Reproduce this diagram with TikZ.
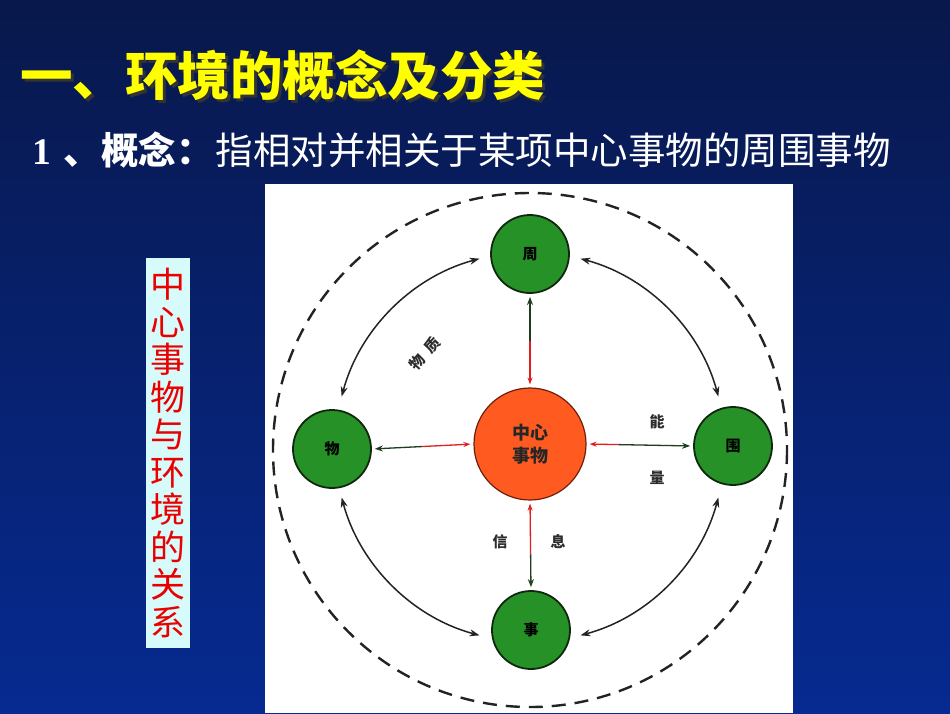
\documentclass[tikz,border=0pt]{standalone}
\usepackage{fontspec}
\newfontfamily\cjk{Noto Sans CJK SC}
\newfontfamily\tnr{Liberation Serif}
\usetikzlibrary{arrows.meta,calc}
\definecolor{bgtop}{RGB}{8,24,75}
\definecolor{bgbot}{RGB}{6,42,145}
\definecolor{ttl}{RGB}{255,255,0}
\definecolor{gfill}{RGB}{38,145,38}
\definecolor{gline}{RGB}{15,40,15}
\definecolor{ofill}{RGB}{255,90,32}
\definecolor{oline}{RGB}{110,30,10}
\definecolor{lblbox}{RGB}{215,250,250}
\definecolor{lblred}{RGB}{235,0,0}
\definecolor{redarr}{RGB}{225,30,30}
\definecolor{darr}{RGB}{30,60,30}
\definecolor{ringcol}{RGB}{35,35,35}
\definecolor{labcol}{RGB}{45,45,45}
\begin{document}
\begin{tikzpicture}[x=1pt,y=-1pt,
  outerc/.style={circle,draw=gline,line width=1.8pt,fill=gfill,minimum size=78pt,inner sep=0pt,text=black,font=\cjk\bfseries\fontsize{15}{15}\selectfont},
  corec/.style={circle,draw=oline,line width=1.2pt,fill=ofill,minimum size=112pt,inner sep=0pt,align=center,text=black!85,font=\cjk\bfseries\fontsize{18}{23}\selectfont},
  ringarrow/.style={draw=ringcol,line width=1.5pt,{Stealth[length=10pt,width=7pt]}-{Stealth[length=10pt,width=7pt]}},
  redhalf/.style={draw=redarr,line width=1.3pt,-{Stealth[length=7pt,width=5pt]},shorten >=3pt},
  greenhalf/.style={draw=darr,line width=1.3pt,-{Stealth[length=8pt,width=6pt]},shorten >=3pt},
  smalllab/.style={text=labcol,font=\cjk\bfseries\fontsize{15}{15}\selectfont,inner sep=0pt},
  dashring/.style={draw=ringcol,line width=2.4pt,dash pattern=on 14pt off 9pt},
  vlabel/.style={fill=lblbox,text=lblred,minimum width=44pt,minimum height=390pt,inner sep=0pt,align=center,font=\cjk\fontsize{35}{37.5}\selectfont},
  titletext/.style={anchor=west,inner sep=0pt,font=\cjk\bfseries\fontsize{52.5}{52.5}\selectfont},
  subtext/.style={anchor=west,inner sep=0pt,font=\cjk\fontsize{37.5}{37.5}\selectfont}
]
\useasboundingbox (0,0) rectangle (950,713);
\shade[top color=bgtop,bottom color=bgbot] (0,0) rectangle (950,713);

% title with shadow
\node[titletext,text=black!80] (titleshadow) at (23,78) {一、环境的概念及分类};
\node[titletext,text=ttl] (title) at (20,75) {一、环境的概念及分类};

% subtitle
\node[subtext,text=white] (sub) at (32,150) {{\tnr\bfseries 1}\hspace{13pt}{\bfseries 、概念：}\hspace{2pt}指相对并相关于某项中心事物的周围事物};

% vertical label
\node[vlabel] (rel) at (168,453) {中\\心\\事\\物\\与\\环\\境\\的\\关\\系};

% white panel
\fill[white] (265,184) rectangle (793,713);

% dashed outer ring
\coordinate (O) at (530,447);
\coordinate (D) at (530,450);
\draw[dashring] (D) circle[radius=257];

% nodes
\node[corec] (C) at (530,444) {中心\\事物};
\node[outerc] (T) at (530,254) {周};
\node[outerc] (R) at (733,446) {围};
\node[outerc] (B) at (531,630) {事};
\node[outerc] (L) at (332,449) {物};

% curved ring arrows
\draw[ringarrow] ($(O)+(-105:195)$) arc[start angle=-105,end angle=-165,radius=195];
\draw[ringarrow] ($(O)+(-75:195)$) arc[start angle=-75,end angle=-15,radius=195];
\draw[ringarrow] ($(O)+(15:195)$) arc[start angle=15,end angle=75,radius=195];
\draw[ringarrow] ($(O)+(105:195)$) arc[start angle=105,end angle=165,radius=195];

% straight arrows: red half towards core, dark half towards outer node
\coordinate (mT) at ($(C.north)!0.5!(T.south)$);
\coordinate (mR) at ($(C.east)!0.3!(R.west)$);
\coordinate (mB) at ($(C.south)!0.6!(B.north)$);
\coordinate (mL) at ($(C.west)!0.5!(L.east)$);
\draw[redhalf] (mT) -- (C.north);
\draw[greenhalf] (mT) -- (T.south);
\draw[redhalf] (mR) -- (C.east);
\draw[greenhalf] (mR) -- (R.west);
\draw[redhalf] (mB) -- (C.south);
\draw[greenhalf] (mB) -- (B.north);
\draw[redhalf] (mL) -- (C.west);
\draw[greenhalf] (mL) -- (L.east);

% labels
\node[smalllab,rotate=48] (wz) at (425,354) {物\hspace{8pt}质};
\node[smalllab] (neng) at (657,422) {能};
\node[smalllab] (liang) at (657,478) {量};
\node[smalllab] (xin) at (500,542) {信};
\node[smalllab] (xi) at (558,542) {息};
\end{tikzpicture}
\end{document}
